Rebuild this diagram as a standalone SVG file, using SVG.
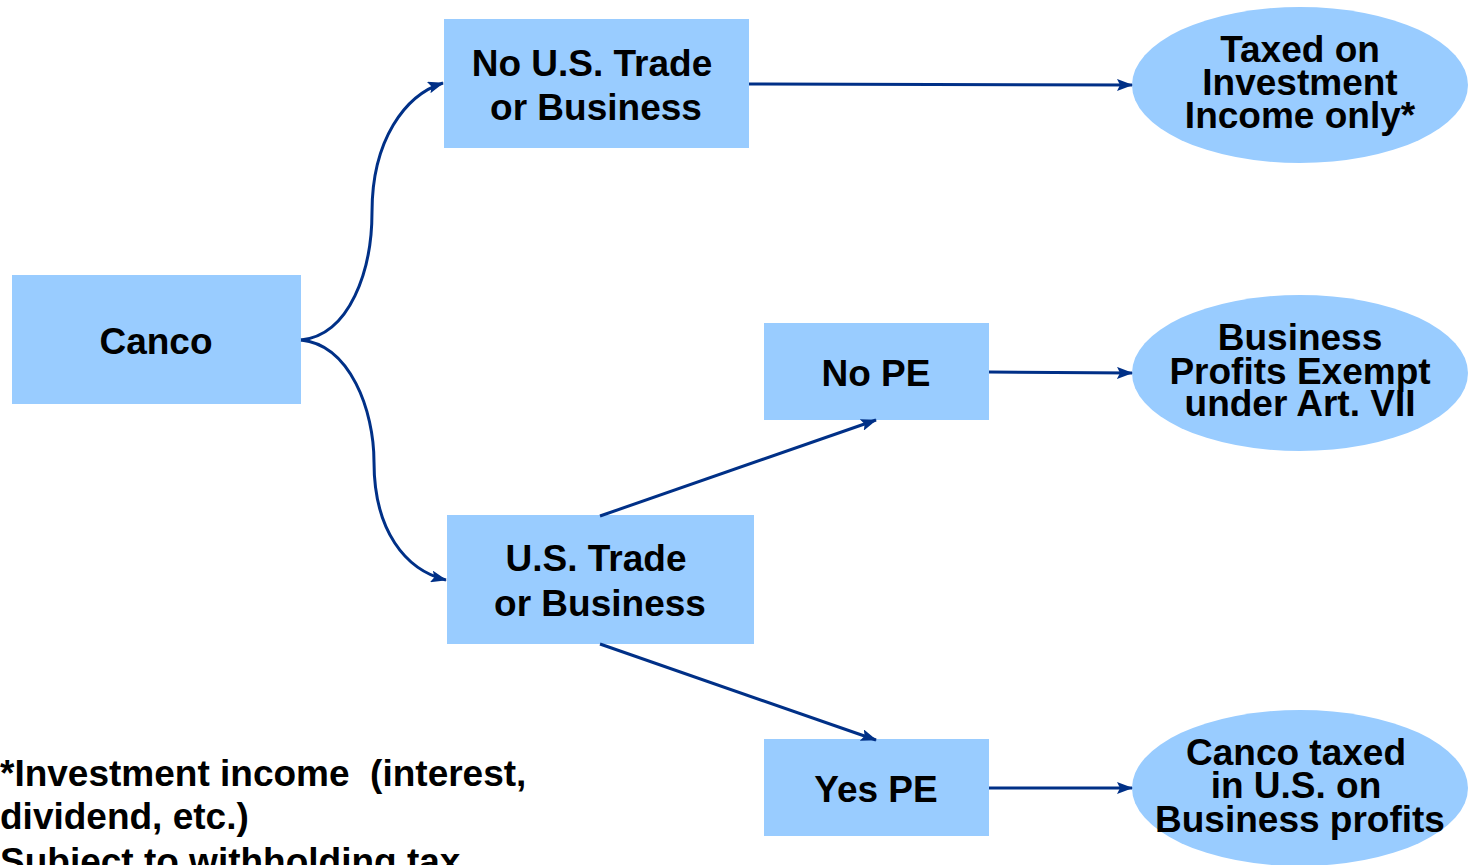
<svg xmlns="http://www.w3.org/2000/svg" width="1473" height="865" viewBox="0 0 1473 865">
<defs>
<marker id="ah" markerWidth="16" markerHeight="12" refX="15" refY="6" orient="auto" markerUnits="userSpaceOnUse">
<path d="M0,0 L16,6 L0,12 L3,6 Z" fill="#003087"/>
</marker>
<style>
.box{fill:#99ccff;}
.t{font-family:"Liberation Sans",Arial,sans-serif;font-weight:bold;font-size:37px;fill:#000;text-anchor:middle;}
.f{font-family:"Liberation Sans",Arial,sans-serif;font-weight:bold;font-size:37px;fill:#000;white-space:pre;}
.c{fill:none;stroke:#003087;stroke-width:3;marker-end:url(#ah);}
</style>
</defs>
<rect width="1473" height="865" fill="#fff"/>
<g id="canco"><rect class="box" x="12" y="275" width="289" height="129"/><text class="t" x="156" y="354">Canco</text></g>
<g id="no-trade"><rect class="box" x="444" y="19" width="305" height="129"/><text class="t" x="592" y="76">No U.S. Trade</text><text class="t" x="596" y="120">or Business</text></g>
<g id="trade"><rect class="box" x="447" y="515" width="307" height="129"/><text class="t" x="596" y="571">U.S. Trade</text><text class="t" x="600" y="616">or Business</text></g>
<g id="no-pe"><rect class="box" x="764" y="323" width="225" height="97"/><text class="t" x="876" y="386">No PE</text></g>
<g id="yes-pe"><rect class="box" x="764" y="739" width="225" height="97"/><text class="t" x="876" y="802">Yes PE</text></g>
<g id="taxed-investment"><ellipse class="box" cx="1300" cy="85" rx="168" ry="78"/><text class="t" x="1300" y="62">Taxed on</text><text class="t" x="1300" y="95">Investment</text><text class="t" x="1300" y="128">Income only*</text></g>
<g id="exempt"><ellipse class="box" cx="1300" cy="373" rx="168" ry="78"/><text class="t" x="1300" y="350">Business</text><text class="t" x="1300" y="384">Profits Exempt</text><text class="t" x="1300" y="416">under Art. VII</text></g>
<g id="taxed-profits"><ellipse class="box" cx="1300" cy="788" rx="168" ry="78"/><text class="t" x="1296" y="765">Canco taxed</text><text class="t" x="1296" y="798">in U.S. on</text><text class="t" x="1300" y="832">Business profits</text></g>
<g id="footnote"><text class="f" x="0" y="786" xml:space="preserve">*Investment income  (interest,</text><text class="f" x="0" y="829">dividend, etc.)</text><text class="f" x="0" y="874">Subject to withholding tax</text></g>
<g id="connectors">
<path class="c" d="M301,340 C350,335 372,270 372,212 C372,140 405,95 443,83"/>
<path class="c" d="M301,340 C350,345 374,410 374,462 C374,530 405,570 446,580"/>
<path class="c" d="M749,84 L1132,85"/>
<path class="c" d="M600,516 L876,420"/>
<path class="c" d="M600,644 L876,740"/>
<path class="c" d="M989,372 L1132,373"/>
<path class="c" d="M989,788 L1132,788"/>
</g>
</svg>
